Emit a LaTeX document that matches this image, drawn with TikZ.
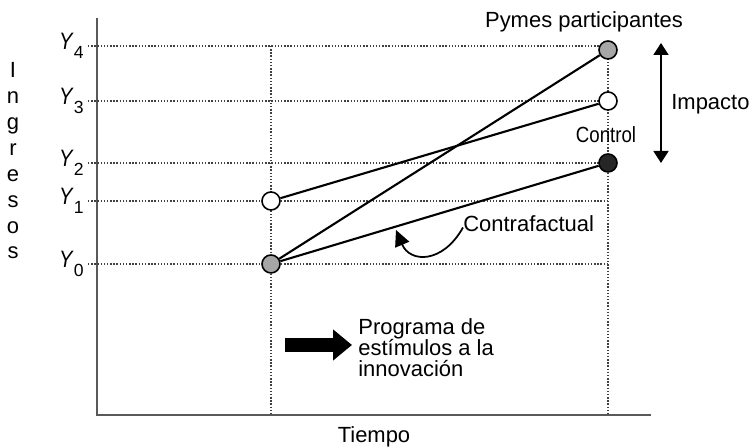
\documentclass[tikz,border=0pt]{standalone}
\usepackage{fontspec}
\setmainfont{Liberation Sans}
\usetikzlibrary{arrows.meta}

\tikzset{
  punto/.style={circle, draw=black, line width=0.9pt, minimum size=0.36cm, inner sep=0pt},
  guia/.style={densely dotted, line width=0.8pt, black!75},
  recta/.style={line width=1.2pt, black},
  eje/.style={line width=1.1pt, black!65},
  texto/.style={font=\fontsize{12.5}{12}\selectfont, inner sep=0pt},
}
\newcommand{\ylab}[1]{\scalebox{0.85}[1]{\textit{Y}}\raisebox{-0.18cm}{\fontsize{10}{11}\selectfont #1}}

\begin{document}
\begin{tikzpicture}
	\useasboundingbox (0,0) rectangle (15,8.96);

	% Ejes
	\draw[eje] (1.94,8.6) -- (1.94,0.66) -- (13.02,0.66);

	% Lineas guia
	\foreach \y/\n in {8.04/4, 6.94/3, 5.70/2, 4.94/1, 3.68/0} {
		\draw[guia] (1.76,\y) -- (12.16,\y);
		\node[anchor=base east, inner sep=0pt, font=\fontsize{13.5}{15}\selectfont] (y\n) at (1.68,\y-0.07) {\ylab{\n}};
	}
	\foreach \x in {5.42, 12.16}
	\draw[guia] (\x,8.04) -- (\x,0.66);

	% Ingresos
	\foreach \l [count=\i] in {I,n,g,r,e,s,o,s}
	\node[texto, anchor=base] (ing\i) at (0.26,7.917-0.517*\i) {\l};

	% Puntos
	\node[punto, fill=black!35] (a0) at (5.42,3.68) {};
	\node[punto, fill=white] (a1) at (5.42,4.94) {};
	\node[punto, fill=black!35] (b4) at (12.16,7.96) {};
	\node[punto, fill=white] (b3) at (12.16,6.94) {};
	\node[punto, fill=black!85] (b2) at (12.16,5.70) {};

	% Rectas
	\draw[recta] (a0) -- (b4);
	\draw[recta] (a0) -- (b2);
	\draw[recta] (a1) -- (b3);

	% Textos
	\node[texto] (pymes) at (11.68,8.52) {Pymes participantes};
	\node[texto, anchor=west] (impacto) at (13.42,6.88) {Impacto};
	\node[texto] (control) at (12.12,6.26) {\scalebox{0.85}[1]{Control}};
	\node[texto, anchor=west] (contra) at (9.26,4.48) {Contrafactual};
	\node[texto] (tiempo) at (7.48,0.22) {Tiempo};
	\node[texto, anchor=west, align=left] (programa) at (7.16,2.01) {Programa de\\estímulos a la\\innovación};

	% Flecha del programa
	\coordinate (f0) at (5.70,2.06);
	\coordinate (f1) at (7.04,2.06);
	\draw[line width=8.5pt, -{Triangle[length=0.38cm, width=0.6cm]}] (f0) -- (f1);

	% Flecha de impacto
	\coordinate (i0) at (13.22,8.10);
	\coordinate (i1) at (13.22,5.70);
	\draw[line width=1pt, {Triangle[length=0.24cm, width=0.3cm]}-{Triangle[length=0.24cm, width=0.3cm]}] (i0) -- (i1);

	% Flecha contrafactual
	\coordinate (c0) at (7.92,4.36);
	\draw[line width=1pt, -{Triangle[length=0.32cm, width=0.3cm]}] ([yshift=-2pt]contra.west) .. controls (8.85,3.68) and (8.2,3.7) .. (c0);
\end{tikzpicture}
\end{document}
